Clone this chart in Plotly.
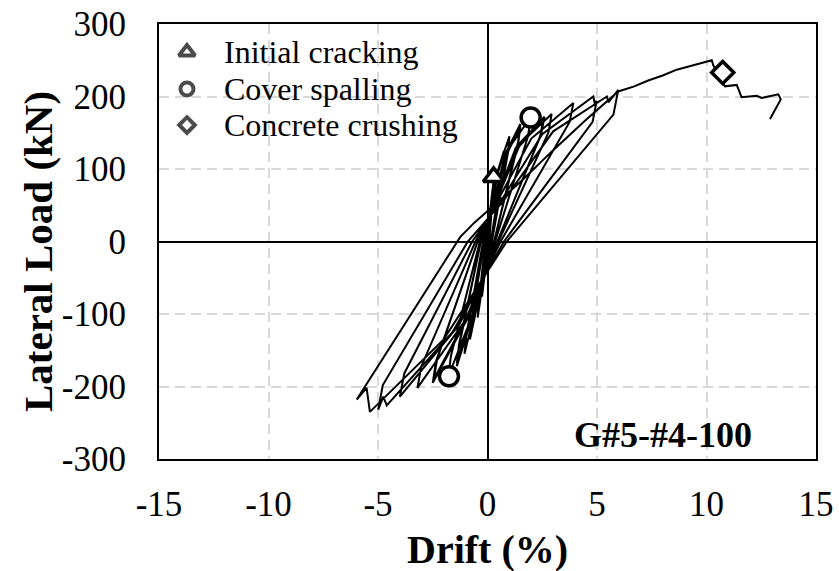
import plotly.graph_objects as go

# ---- data ----
drift = [
    0.00, 0.10, 0.22, 0.20, 0.05, -0.10, -0.25, -0.22, -0.05,
    0.10, 0.23, 0.20, 0.05, -0.10, -0.25, -0.22, -0.05,
    0.10, 0.30, 0.27, 0.08, -0.15, -0.45, -0.41, -0.10,
    0.20, 0.45, 0.75, 0.70, 0.15, -0.30, -0.80, -0.74, -0.15,
    0.20, 0.45, 0.75, 0.70, 0.15, -0.30, -0.80, -0.74, -0.15,
    0.20, 0.55, 1.00, 0.93, 0.20, -0.40, -1.05, -0.97, -0.20,
    0.30, 0.80, 1.50, 1.40, 0.30, -0.50, -1.40, -1.30, -0.30,
    0.30, 0.80, 1.50, 1.40, 0.30, -0.50, -1.40, -1.30, -0.30,
    0.35, 1.00, 1.97, 1.85, 0.35, -0.60, -1.79, -1.67, -0.35,
    0.40, 1.30, 2.60, 2.45, 0.45, -0.80, -2.50, -2.35, -0.45,
    0.40, 1.30, 2.55, 2.40, 0.45, -0.80, -2.45, -2.30, -0.45,
    0.45, 1.50, 2.93, 2.78, 0.50, -1.00, -3.20, -3.02, -0.55,
    0.50, 2.00, 3.92, 3.75, 0.60, -1.30, -4.00, -3.80, -0.70,
    0.60, 2.50, 4.60, 4.83, 4.90, 4.98, 4.80, 0.75, -1.60, -4.60, -4.76, -4.99, -4.78, -0.90,
    0.70, 3.00, 5.45, 5.52, 5.97, 5.75, 0.88, -2.00, -5.37, -5.52, -5.97,
    -4.00, -2.20, -1.25, -0.60, 0.00, 1.50, 3.00, 4.50, 5.97, 6.70, 7.34, 8.00, 8.64, 9.40,
    10.24, 10.31, 10.84, 11.38, 11.60, 12.29, 12.52, 13.28, 13.39, 12.90,
]
load = [
    0, 35, 70, 58, 0, -35, -75, -62, 0,
    36, 72, 60, 0, -36, -76, -63, 0,
    40, 89, 74, 0, -45, -105, -88, 0,
    50, 95, 125, 105, 0, -65, -135, -112, 0,
    48, 92, 122, 102, 0, -62, -132, -110, 0,
    50, 105, 145, 122, 0, -75, -155, -130, 0,
    55, 120, 162, 138, 0, -85, -172, -145, 0,
    52, 116, 158, 135, 0, -82, -168, -142, 0,
    60, 130, 171, 145, 0, -95, -186, -158, 0,
    58, 130, 172, 148, 0, -100, -195, -165, 0,
    55, 126, 168, 145, 0, -97, -190, -162, 0,
    60, 135, 176, 150, 0, -108, -202, -172, 0,
    58, 142, 191, 165, 0, -115, -214, -182, 0,
    55, 148, 196, 200, 190, 194, 165, 0, -125, -226, -214, -232, -198, 0,
    55, 152, 200, 192, 209, 175, 0, -135, -235, -202, -218,
    -124, -40, 6, 26, 42, 82, 126, 168, 207, 214, 222, 229, 237, 243,
    250, 243, 214, 216, 199, 201, 198, 203, 196, 169,
]
assert len(drift) == len(load)

crack_drift = [0.28]
crack_load = [89]
spall_drift = [1.97, -1.76]
spall_load = [171, -186]
crush_drift = [10.74]
crush_load = [233]

legend_labels = ["Initial cracking", "Cover spalling", "Concrete crushing"]
legend_symbols = ["triangle-up", "circle", "diamond"]

x_ticks = [-15, -10, -5, 0, 5, 10, 15]
x_tick_labels = ["-15", "-10", "-5", "0", "5", "10", "15"]
y_ticks = [-300, -200, -100, 0, 100, 200, 300]
y_tick_labels = ["-300", "-200", "-100", "0", "100", "200", "300"]

SERIF = "Liberation Serif, Times New Roman, serif"

fig = go.Figure()
fig.add_trace(go.Scatter(
    x=drift, y=load, mode="lines",
    line=dict(color="black", width=2),
    showlegend=False, hoverinfo="skip",
))
fig.add_trace(go.Scatter(
    x=crack_drift, y=crack_load, mode="markers", name=legend_labels[0],
    marker=dict(symbol="triangle-up", size=18, color="white",
                line=dict(color="black", width=3.5)),
    showlegend=False,
))
fig.add_trace(go.Scatter(
    x=spall_drift, y=spall_load, mode="markers", name=legend_labels[1],
    marker=dict(symbol="circle", size=19, color="white",
                line=dict(color="black", width=3.5)),
    showlegend=False,
))
fig.add_trace(go.Scatter(
    x=crush_drift, y=crush_load, mode="markers", name=legend_labels[2],
    marker=dict(symbol="diamond", size=17, color="white",
                line=dict(color="black", width=3.5)),
    showlegend=False,
))

# hand-drawn legend (symbols on an overlay axis in paper fractions)
legend_row_y = [0.9356, 0.8506, 0.7678]
legend_sym_sizes = [14, 13, 12]
fig.add_trace(go.Scatter(
    x=[0.0426] * 3, y=legend_row_y, xaxis="x2", yaxis="y2", mode="markers",
    marker=dict(symbol=legend_symbols, size=legend_sym_sizes, color="white",
                line=dict(color="black", width=4)),
    showlegend=False, hoverinfo="skip",
))

axis_common = dict(
    showline=True, mirror=True, linecolor="black", linewidth=2,
    showgrid=True, gridcolor="#d9d9d9", gridwidth=2, griddash="10px,6px",
    zeroline=True, zerolinecolor="black", zerolinewidth=1.5,
    ticks="", tickfont=dict(family=SERIF, size=35, color="black"),
    automargin=False,
)

annotations = [
    dict(text="<b>Drift (%)</b>", xref="paper", yref="paper",
         x=0.5, y=-0.207, xanchor="center", yanchor="middle",
         showarrow=False, font=dict(family=SERIF, size=40, color="black")),
    dict(text="<b>Lateral Load (kN)</b>", xref="paper", yref="paper",
         x=-0.184, y=0.476, xanchor="center", yanchor="middle", textangle=-90,
         showarrow=False, font=dict(family=SERIF, size=41, color="black")),
    dict(text="<b>G#5-#4-100</b>", xref="x", yref="y",
         x=8.0, y=-267, xanchor="center", yanchor="middle",
         showarrow=False, font=dict(family=SERIF, size=36, color="black")),
]
for label, ry in zip(legend_labels, legend_row_y):
    annotations.append(dict(
        text=label, xref="paper", yref="paper", x=0.0959, y=ry,
        xanchor="left", yanchor="middle", showarrow=False,
        font=dict(family=SERIF, size=32, color="black")))

fig.update_layout(
    width=839, height=571,
    margin=dict(l=159, r=23, t=24, b=112),
    paper_bgcolor="white", plot_bgcolor="white",
    xaxis=dict(range=[-15, 15], tickvals=x_ticks, ticktext=x_tick_labels,
               ticklabelstandoff=13, **axis_common),
    yaxis=dict(range=[-300, 300], tickvals=y_ticks, ticktext=y_tick_labels,
               ticklabelstandoff=24, **axis_common),
    xaxis2=dict(overlaying="x", range=[0, 1], visible=False, fixedrange=True,
                automargin=False),
    yaxis2=dict(overlaying="y", range=[0, 1], visible=False, fixedrange=True,
                automargin=False),
    showlegend=False,
    annotations=annotations,
)

fig.write_html("out.html")
